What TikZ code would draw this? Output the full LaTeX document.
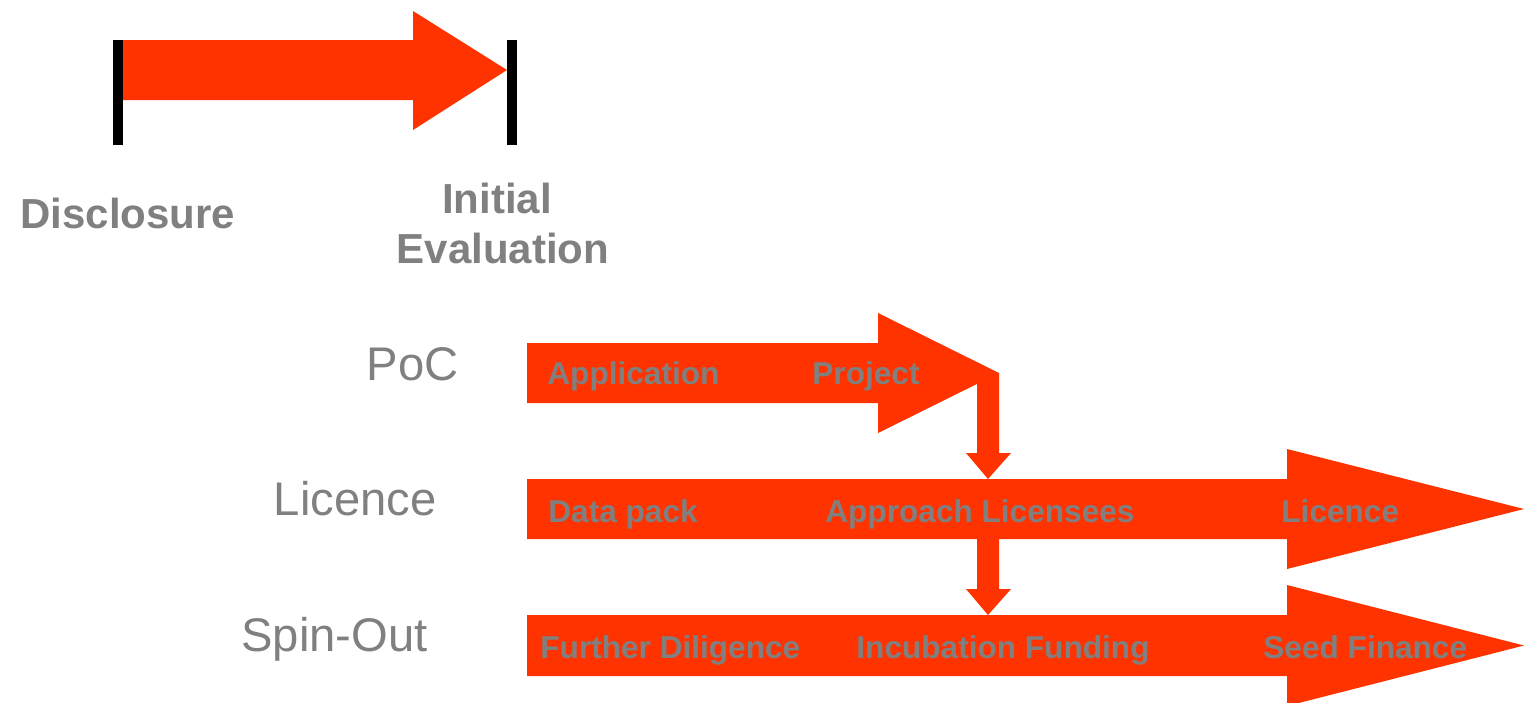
\documentclass[tikz,border=0pt]{standalone}
\usepackage{fontspec}
\setmainfont{Liberation Sans}
\definecolor{flame}{HTML}{FF3300}
\definecolor{labelgrey}{HTML}{808080}

\begin{document}
\begin{tikzpicture}[x=0.5pt,y=-0.5pt,
    block/.style={fill=flame},
    bar/.style={line width=5pt,black},
    heading/.style={inner sep=0,text=labelgrey,font=\fontsize{21}{25}\selectfont\bfseries},
    track/.style={inner sep=0,anchor=base east,text=labelgrey,font=\fontsize{23.6}{28}\selectfont},
    stage/.style={inner sep=0,anchor=base west,text=labelgrey,font=\fontsize{15.8}{19}\selectfont\bfseries}]
\useasboundingbox (0,0) rectangle (1524,702);

% disclosure to initial evaluation
\fill[block] (123,40) -- (413,40) -- (413,11) -- (507,70) -- (413,130) -- (413,100) -- (123,100) -- cycle;
\draw[bar] (118,40) -- (118,145);
\draw[bar] (512,40) -- (512,145);
\node[heading,anchor=base west] (disclosure) at (20,228) {Disclosure};
\node[heading,anchor=base] (initial) at (497,213) {Initial};
\node[heading,anchor=base] (evaluation) at (503,263) {Evaluation};

% three routes
\fill[block] (527,343) -- (878,343) -- (878,313) -- (999,373) -- (878,433) -- (878,403) -- (527,403) -- cycle;
\fill[block] (527,479) -- (1287,479) -- (1287,449) -- (1524,509) -- (1287,569) -- (1287,539) -- (527,539) -- cycle;
\fill[block] (527,615) -- (1287,615) -- (1287,585) -- (1524,645.5) -- (1287,706) -- (1287,676) -- (527,676) -- cycle;

% hand-overs between routes
\fill[block] (977,373) -- (999,373) -- (999,453) -- (1011,453) -- (988,479) -- (966,453) -- (977,453) -- cycle;
\fill[block] (977,539) -- (999,539) -- (999,589) -- (1011,589) -- (988,615) -- (966,589) -- (977,589) -- cycle;

\node[track] (poc) at (459,380) {PoC};
\node[track] (licence) at (437,515) {Licence};
\node[track] (spinout) at (428,651) {Spin-Out};

\node[stage] (application) at (547,384) {Application};
\node[stage] (project) at (812,384) {Project};
\node[stage] (datapack) at (548,522) {Data pack};
\node[stage] (approach) at (825,522) {Approach Licensees};
\node[stage] (licensed) at (1281,522) {Licence};
\node[stage] (diligence) at (540,658) {Further Diligence};
\node[stage] (incubation) at (856,658) {Incubation Funding};
\node[stage] (seed) at (1263,658) {Seed Finance};
\end{tikzpicture}
\end{document}
